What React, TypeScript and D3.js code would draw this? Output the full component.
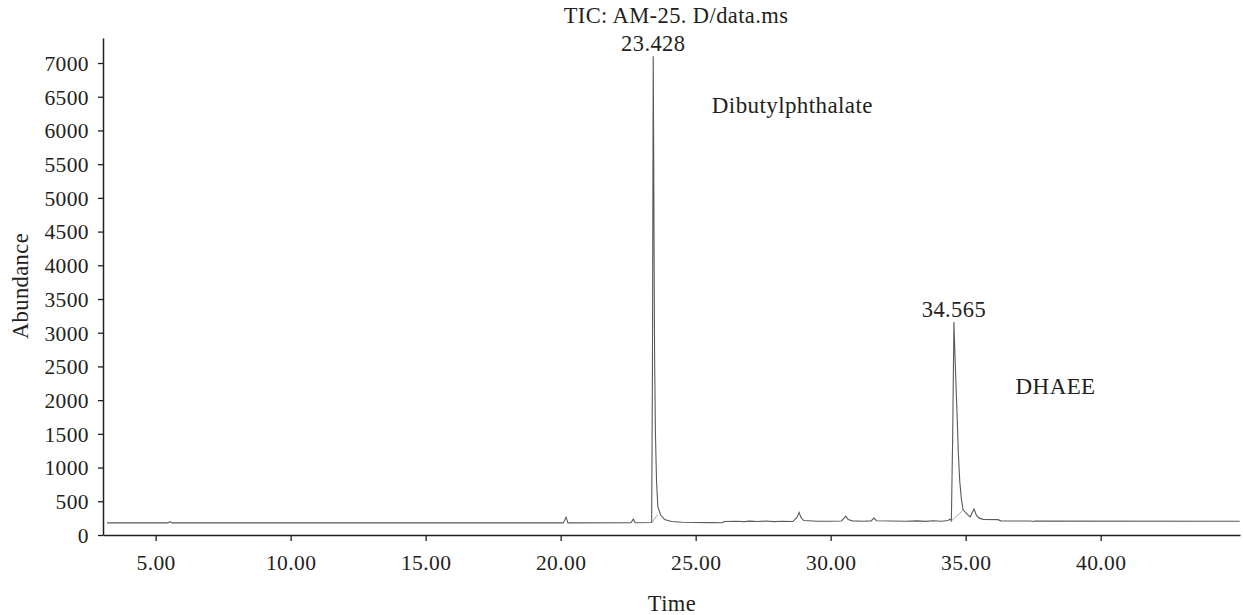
import React, { useEffect, useRef } from "react";
import * as d3 from "d3";

// retention time (min) and abundance
const times = [
  3.2, 5.45, 5.53, 5.6, 20.1, 20.2, 20.27, 22.6, 22.69, 22.76,
  23.37, 23.4, 23.428, 23.445, 23.46, 23.48, 23.51, 23.55, 23.6, 23.7,
  23.85, 24.1, 24.5, 25.0, 25.5, 26.0, 26.05, 26.5, 26.8, 27.0,
  27.3, 27.6, 27.9, 28.2, 28.6, 28.75, 28.83, 28.9, 29.0, 29.5,
  30.0, 30.4, 30.5, 30.56, 30.65, 30.8, 31.2, 31.5, 31.6, 31.7,
  32.2, 32.8, 33.2, 33.5, 33.8, 34.1, 34.35, 34.42, 34.47, 34.52,
  34.565, 34.6, 34.68, 34.73, 34.78, 34.84, 34.9, 35.0, 35.1, 35.17,
  35.24, 35.31, 35.4, 35.5, 35.65, 36.2, 36.3, 37.4, 37.5, 37.55,
  45.15,
];
const abundance = [
  180, 180, 198, 180, 180, 265, 180, 182, 235, 182,
  186, 2500, 7100, 5740, 4200, 2600, 1500, 800, 420, 300,
  230, 200, 190, 185, 183, 182, 200, 205, 198, 206,
  200, 207, 199, 205, 200, 260, 335, 260, 215, 205,
  203, 208, 250, 280, 230, 210, 205, 210, 252, 212,
  207, 205, 210, 202, 212, 205, 215, 235, 210, 1500,
  3160, 2700, 1800, 1200, 800, 540, 380, 330, 290, 270,
  330, 385, 290, 250, 232, 228, 210, 207, 200, 207,
  205,
];

// integration baselines under the two labelled peaks
const baseStart = [[23.39, 188], [34.47, 208]];
const baseEnd = [[23.58, 300], [34.91, 370]];

const peakTimes = [23.428, 34.565];
const peakValues = [7100, 3160];
const peakLabels = ["23.428", "34.565"];

const compoundNames = ["Dibutylphthalate", "DHAEE"];
const compoundTimes = [25.6, 36.85];
const compoundValues = [6260, 2090];

const xTicks = [5, 10, 15, 20, 25, 30, 35, 40];
const yTicks = d3.range(0, 7001, 500);

const App = () => {
  const svgRef = useRef(null);
  const width = 1243;
  const height = 615;

  useEffect(() => {
    const svg = d3.select(svgRef.current);
    svg.selectAll("*").remove();

    const x = d3.scaleLinear().domain([3.05, 45.16]).range([103, 1240]);
    const y = d3.scaleLinear().domain([0, 7371]).range([535, 38]);

    const font = "'Liberation Serif', 'Times New Roman', serif";
    const ink = "#231f20";
    svg.attr("font-family", font).attr("letter-spacing", 0.4);

    // axes
    const xAxis = svg
      .append("g")
      .attr("transform", `translate(0,${y(0)})`)
      .call(
        d3.axisBottom(x).tickValues(xTicks).tickSize(6).tickSizeOuter(0).tickFormat(d3.format(".2f"))
      );
    const yAxis = svg
      .append("g")
      .attr("transform", `translate(${x(3.05)},0)`)
      .call(d3.axisLeft(y).tickValues(yTicks).tickSize(5).tickSizeOuter(0).tickFormat(d3.format("d")));

    [xAxis, yAxis].forEach((g) => {
      g.select(".domain").attr("stroke", ink).attr("stroke-width", 1.5);
      g.selectAll(".tick line").attr("stroke", ink).attr("stroke-width", 1.3);
      g.selectAll(".tick text")
        .attr("fill", ink)
        .attr("font-family", font)
        .attr("font-size", 21.5);
    });
    xAxis.selectAll(".tick text").attr("y", 0).attr("dy", "1.62em");
    yAxis.selectAll(".tick text").attr("x", -14).attr("dy", "0.34em");

    // trace
    const pts = times.map((t, i) => [t, abundance[i]]);
    const line = d3
      .line()
      .x((d) => x(d[0]))
      .y((d) => y(d[1]));
    svg
      .append("path")
      .datum(pts)
      .attr("d", line)
      .attr("fill", "none")
      .attr("stroke", "#5a5a5a")
      .attr("stroke-width", 1.1);

    // integration baselines
    svg
      .selectAll(".base")
      .data(baseStart)
      .join("line")
      .attr("class", "base")
      .attr("x1", (d) => x(d[0]))
      .attr("y1", (d) => y(d[1]))
      .attr("x2", (d, i) => x(baseEnd[i][0]))
      .attr("y2", (d, i) => y(baseEnd[i][1]))
      .attr("stroke", "#aaa")
      .attr("stroke-width", 1);

    // peak labels
    svg
      .selectAll(".peak")
      .data(peakLabels)
      .join("text")
      .attr("class", "peak")
      .attr("x", (d, i) => x(peakTimes[i]))
      .attr("y", (d, i) => y(peakValues[i]) - 5)
      .attr("text-anchor", "middle")
      .attr("font-size", 22.5)
      .attr("fill", ink)
      .text((d) => d);

    svg
      .selectAll(".name")
      .data(compoundNames)
      .join("text")
      .attr("class", "name")
      .attr("x", (d, i) => x(compoundTimes[i]))
      .attr("y", (d, i) => y(compoundValues[i]))
      .attr("font-size", 23)
      .attr("fill", ink)
      .text((d) => d);

    // title and axis titles
    svg
      .append("text")
      .attr("x", 676)
      .attr("y", 23)
      .attr("text-anchor", "middle")
      .attr("font-size", 22.5)
      .attr("fill", ink)
      .text("TIC: AM-25. D/data.ms");
    svg
      .append("text")
      .attr("x", 672)
      .attr("y", 611)
      .attr("text-anchor", "middle")
      .attr("font-size", 22.5)
      .attr("fill", ink)
      .text("Time");
    svg
      .append("text")
      .attr("transform", "translate(28,286) rotate(-90)")
      .attr("text-anchor", "middle")
      .attr("font-size", 22.5)
      .attr("fill", ink)
      .text("Abundance");
  }, []);

  return (
    <svg
      ref={svgRef}
      width={width}
      height={height}
      style={{ position: "fixed", left: 0, top: 0, background: "#fff" }}
    ></svg>
  );
};

export default App;
